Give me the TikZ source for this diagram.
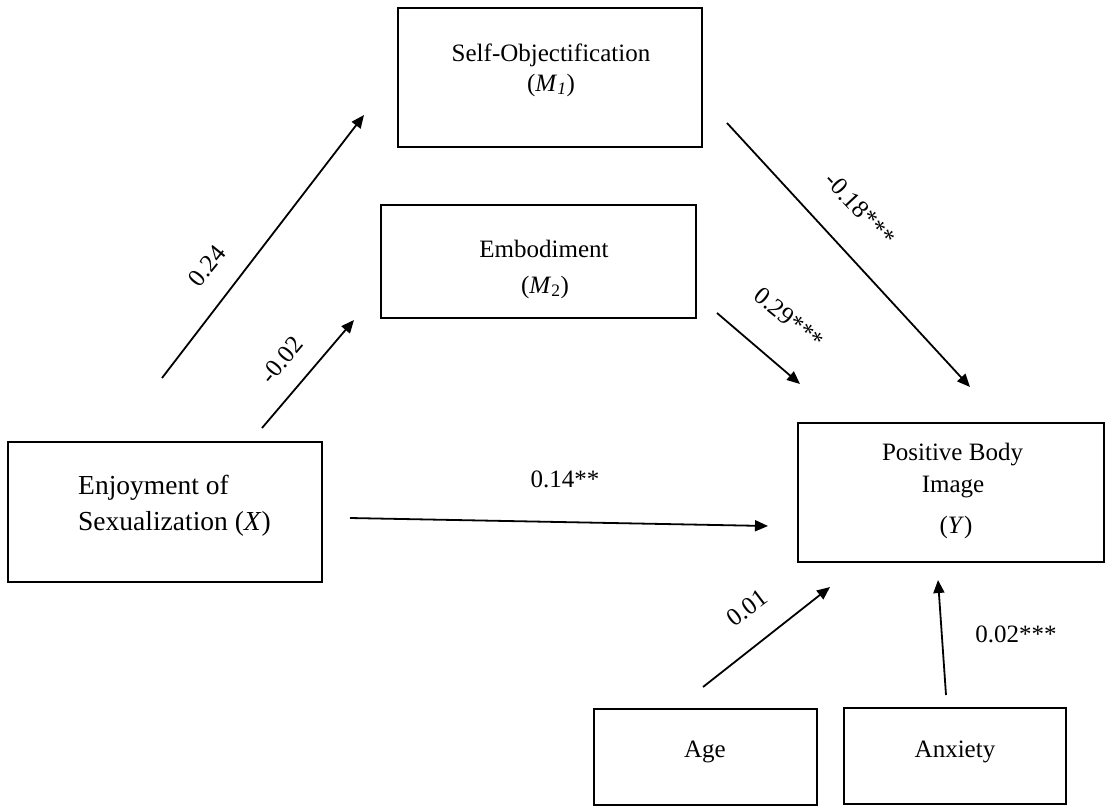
\documentclass[tikz,border=0pt]{standalone}
\usepackage{fontspec}
\setmainfont{Liberation Serif}
\usetikzlibrary{arrows.meta}

\tikzset{
  box/.style={draw, line width=2.2pt, inner sep=0pt},
  txt/.style={font=\fontsize{25}{30}\selectfont, inner sep=0pt, align=center},
  bigtxt/.style={font=\fontsize{27.5}{36}\selectfont, inner sep=0pt, align=left},
  coef/.style={font=\fontsize{25}{30}\selectfont, inner sep=0pt},
  path/.style={line width=1.8pt, -{Triangle[length=13pt,width=11pt]}}
}

\begin{document}
\begin{tikzpicture}[x=1pt,y=-1pt]
\useasboundingbox (0,0) rectangle (1107,806);

% variable boxes
\node[box, minimum width=304, minimum height=139] (m1)  at (550,77.5)   {};
\node[box, minimum width=315, minimum height=113] (m2)  at (538.5,261.5) {};
\node[box, minimum width=314, minimum height=140] (xv)  at (165,512)    {};
\node[box, minimum width=306, minimum height=139] (yv)  at (951,492.5)  {};
\node[box, minimum width=223, minimum height=96]  (age) at (705.5,757)  {};
\node[box, minimum width=222, minimum height=96]  (anx) at (955,756)    {};

% box texts
\node[txt, anchor=base] (m1a) at (551,61) {Self-Objectification};
\node[txt, anchor=base] (m1b) at (551,91) {(\textit{M}\textsubscript{\textit{1}})};
\node[txt, anchor=base] (m2a) at (544,257) {Embodiment};
\node[txt, anchor=base] (m2b) at (545,293) {(\textit{M}\textsubscript{2})};
\node[bigtxt, anchor=base west] (xa) at (78,494) {Enjoyment of};
\node[bigtxt, anchor=base west] (xb) at (78,530) {Sexualization (\textit{X})};
\node[txt, anchor=base] (ya) at (952.5,460) {Positive Body};
\node[txt, anchor=base] (yb) at (953,492) {Image};
\node[txt, anchor=base] (yc) at (956,533) {(\textit{Y})};
\node[txt, anchor=base] (agetxt) at (705,757) {Age};
\node[txt, anchor=base] (anxtxt) at (955,757) {Anxiety};

% path end points
\coordinate (a1s) at (162,378);  \coordinate (a1e) at (364,115);
\coordinate (a2s) at (262,428);  \coordinate (a2e) at (354,320);
\coordinate (a3s) at (727,123);  \coordinate (a3e) at (970,387);
\coordinate (a4s) at (717,313);  \coordinate (a4e) at (800,384);
\coordinate (a5s) at (350,518);  \coordinate (a5e) at (768,526);
\coordinate (a6s) at (703,687);  \coordinate (a6e) at (830,587);
\coordinate (a7s) at (946,695);  \coordinate (a7e) at (938,580);

% paths
\draw[path] (a1s) -- (a1e);
\draw[path] (a2s) -- (a2e);
\draw[path] (a3s) -- (a3e);
\draw[path] (a4s) -- (a4e);
\draw[path] (a5s) -- (a5e);
\draw[path] (a6s) -- (a6e);
\draw[path] (a7s) -- (a7e);

% coefficients
\node[coef, rotate=51]  (c1) at (207,266) {0.24};
\node[coef, rotate=50]  (c2) at (282,360) {-0.02};
\node[coef, rotate=-47] (c3) at (860,209) {-0.18***};
\node[coef, rotate=-39] (c4) at (789,318) {0.29***};
\node[coef, anchor=base] (c5) at (565,487) {0.14**};
\node[coef, rotate=37]  (c6) at (747,608) {0.01};
\node[coef, anchor=base] (c7) at (1016,642) {0.02***};
\end{tikzpicture}
\end{document}
